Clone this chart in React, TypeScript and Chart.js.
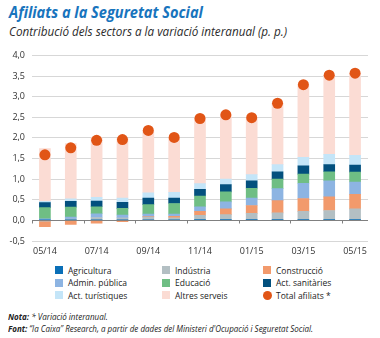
import React, { useEffect, useLayoutEffect, useRef, useState } from 'react';
import { Chart, registerables } from 'chart.js';

Chart.register(...registerables);

const labels = ['05/14', '06/14', '07/14', '08/14', '09/14', '10/14', '11/14', '12/14', '01/15', '02/15', '03/15', '04/15', '05/15'];

const agricultura = [0.01, 0.01, 0.01, 0.01, 0.01, 0.01, 0.02, 0.02, 0.02, 0.02, 0.02, 0.02, 0.02];
const industria = [-0.02, 0.02, 0.06, 0.05, 0.07, 0.05, 0.10, 0.12, 0.15, 0.16, 0.20, 0.22, 0.26];
const construccio = [-0.13, -0.10, -0.07, -0.03, 0.01, 0.04, 0.10, 0.14, 0.19, 0.30, 0.31, 0.33, 0.35];
const adminPublica = [0.03, 0.05, 0.09, 0.07, 0.06, 0.05, 0.11, 0.17, 0.18, 0.29, 0.37, 0.39, 0.30];
const educacio = [0.27, 0.24, 0.17, 0.16, 0.23, 0.26, 0.26, 0.24, 0.24, 0.23, 0.22, 0.22, 0.24];
const sanitaries = [0.12, 0.14, 0.14, 0.15, 0.16, 0.13, 0.16, 0.18, 0.18, 0.18, 0.20, 0.17, 0.17];
const turistiques = [0.03, 0.06, 0.09, 0.10, 0.13, 0.14, 0.14, 0.13, 0.15, 0.17, 0.21, 0.25, 0.24];
const altresServeis = [1.28, 1.34, 1.45, 1.45, 1.51, 1.33, 1.58, 1.56, 1.38, 1.49, 1.76, 1.92, 1.99];
const totalAfiliats = [1.59, 1.76, 1.94, 1.96, 2.18, 2.01, 2.47, 2.56, 2.49, 2.84, 3.29, 3.52, 3.57];

const C = {
  agri: '#0a6fb7',
  ind: '#b3bfc3',
  cons: '#f29a6c',
  admin: '#8db4e2',
  edu: '#6fbe84',
  san: '#03507e',
  tur: '#c4e5f8',
  altres: '#fbdcd4',
  total: '#e15516',
};

const FONT = '"Open Sans", sans-serif';

function FitText({ width, style, children }: { width: number; style?: any; children: any }) {
  const ref = useRef<HTMLSpanElement>(null);
  const [s, setS] = useState(1);
  useLayoutEffect(() => {
    if (ref.current) {
      const w = ref.current.offsetWidth;
      if (w > 0) setS(width / w);
    }
  }, [width]);
  return (
    <span
      ref={ref}
      style={{ display: 'inline-block', whiteSpace: 'nowrap', transform: `scaleX(${s})`, transformOrigin: 'left center', ...style }}
    >
      {children}
    </span>
  );
}

const zeroPlugin = {
  id: 'zeroLineTicks',
  afterDatasetsDraw(chart: any) {
    const xs = chart.scales.x;
    const ys = chart.scales.y;
    const ctx = chart.ctx;
    const y0 = Math.round(ys.getPixelForValue(0)) + 0.5;
    const half = (xs.getPixelForValue(1) - xs.getPixelForValue(0)) / 2;
    ctx.save();
    ctx.strokeStyle = '#808080';
    ctx.lineWidth = 1;
    ctx.beginPath();
    ctx.moveTo(chart.chartArea.left, y0);
    ctx.lineTo(chart.chartArea.right, y0);
    for (let i = 0; i < labels.length; i += 2) {
      const x = Math.round(xs.getPixelForValue(i) - half) + 0.5;
      ctx.moveTo(x, y0);
      ctx.lineTo(x, y0 + 3);
    }
    ctx.stroke();
    ctx.restore();
  },
};

function ChartCanvas() {
  const ref = useRef<HTMLCanvasElement>(null);
  useEffect(() => {
    if (!ref.current) return;
    const bar = (label: string, data: number[], color: string) => ({
      type: 'bar' as const,
      label,
      data,
      backgroundColor: color,
      borderWidth: 0,
      stack: 'sectors',
      order: 1,
      barThickness: 11,
    });
    const chart = new Chart(ref.current, {
      type: 'bar',
      data: {
        labels,
        datasets: [
          bar('Agricultura', agricultura, C.agri),
          bar('Indústria', industria, C.ind),
          bar('Construcció', construccio, C.cons),
          bar('Admin. pública', adminPublica, C.admin),
          bar('Educació', educacio, C.edu),
          bar('Act. sanitàries', sanitaries, C.san),
          bar('Act. turístiques', turistiques, C.tur),
          bar('Altres serveis', altresServeis, C.altres),
          {
            type: 'line' as const,
            label: 'Total afiliats *',
            data: totalAfiliats,
            showLine: false,
            pointRadius: 5.5,
            pointHoverRadius: 5.5,
            pointBackgroundColor: C.total,
            pointBorderWidth: 0,
            backgroundColor: C.total,
            borderColor: C.total,
            stack: 'total',
            order: 0,
          } as any,
        ],
      },
      options: {
        animation: false,
        responsive: true,
        maintainAspectRatio: false,
        layout: { padding: { top: 8, right: 12, left: 0, bottom: 0 } },
        plugins: { legend: { display: false }, tooltip: { enabled: false }, title: { display: false } },
        scales: {
          x: {
            stacked: true,
            grid: { display: false, drawTicks: false },
            border: { display: false },
            ticks: {
              autoSkip: false,
              maxRotation: 0,
              padding: 5,
              color: '#333',
              font: { family: FONT, size: 9 },
              callback: (_v: any, i: number) => (i % 2 === 0 ? labels[i] : ''),
            },
            afterFit: (s: any) => {
              s.height = 16;
            },
          },
          y: {
            stacked: true,
            min: -0.5,
            max: 4,
            grid: {
              drawTicks: false,
              color: (c: any) => (c.tick && c.tick.value === 0 ? 'rgba(0,0,0,0)' : '#d7d7d7'),
            },
            border: { display: false },
            ticks: {
              stepSize: 0.5,
              padding: 7,
              color: '#333',
              font: { family: FONT, size: 9 },
              callback: (v: any) => Number(v).toFixed(1).replace('.', ','),
            },
            afterFit: (s: any) => {
              s.width = 32;
            },
          },
        },
      } as any,
      plugins: [zeroPlugin],
    });
    return () => chart.destroy();
  }, []);
  return (
    <div style={{ position: 'absolute', left: 0, top: 43, width: 380, height: 214 }}>
      <canvas ref={ref} />
    </div>
  );
}

const legendItems = [
  { label: 'Agricultura', color: C.agri, col: 0, row: 0 },
  { label: 'Indústria', color: C.ind, col: 1, row: 0 },
  { label: 'Construcció', color: C.cons, col: 2, row: 0 },
  { label: 'Admin. pública', color: C.admin, col: 0, row: 1 },
  { label: 'Educació', color: C.edu, col: 1, row: 1 },
  { label: 'Act. sanitàries', color: C.san, col: 2, row: 1 },
  { label: 'Act. turístiques', color: C.tur, col: 0, row: 2 },
  { label: 'Altres serveis', color: C.altres, col: 1, row: 2 },
  { label: 'Total afiliats *', color: C.total, col: 2, row: 2, circle: true },
];
const colX = [55, 162, 263];
const rowY = [270, 282.5, 295];

export default function App() {
  useEffect(() => {
    document.body.style.margin = '0';
  }, []);
  return (
    <div style={{ position: 'relative', width: 380, height: 338, background: '#fff', fontFamily: FONT, overflow: 'hidden' }}>
      <div style={{ position: 'absolute', left: 9, top: 2, lineHeight: '20px' }}>
        <FitText width={194} style={{ fontSize: 16, fontWeight: 700, fontStyle: 'italic', color: '#1874bd' }}>
          Afiliats a la Seguretat Social
        </FitText>
      </div>
      <div style={{ position: 'absolute', left: 9, top: 21, lineHeight: '18px' }}>
        <FitText width={278} style={{ fontSize: 12.5, fontStyle: 'italic', color: '#2b2b2b' }}>
          Contribució dels sectors a la variació interanual (p. p.)
        </FitText>
      </div>
      <ChartCanvas />
      {legendItems.map((it) => (
        <div
          key={it.label}
          style={{
            position: 'absolute',
            left: colX[it.col],
            top: rowY[it.row] - 6,
            height: 12,
            display: 'flex',
            alignItems: 'center',
            whiteSpace: 'nowrap',
          }}
        >
          <span
            style={{
              display: 'inline-block',
              width: it.circle ? 9 : 8,
              height: it.circle ? 9 : 8,
              borderRadius: it.circle ? '50%' : 0,
              background: it.color,
              marginRight: it.circle ? 4 : 5,
            }}
          />
          <span style={{ fontSize: 8.5, color: '#222' }}>{it.label}</span>
        </div>
      ))}
      <div style={{ position: 'absolute', left: 8, top: 309, lineHeight: '11px', color: '#222' }}>
        <FitText width={100} style={{ fontSize: 9.5, fontStyle: 'italic' }}>
          <b>Nota:</b> * Variació interanual.
        </FitText>
      </div>
      <div style={{ position: 'absolute', left: 8, top: 320.5, lineHeight: '11px', color: '#222' }}>
        <FitText width={305} style={{ fontSize: 9.5, fontStyle: 'italic' }}>
          <b>Font:</b> “la Caixa” Research, a partir de dades del Ministeri d'Ocupació i Seguretat Social.
        </FitText>
      </div>
    </div>
  );
}
